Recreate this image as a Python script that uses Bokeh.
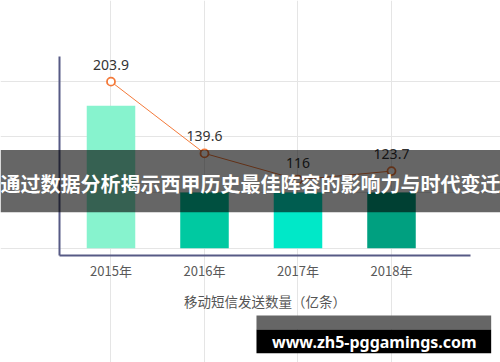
from bokeh.plotting import figure
from bokeh.models import Range1d, LinearAxis, FixedTicker, BoxAnnotation, Label, ColumnDataSource
from bokeh.core.properties import value
from bokeh.embed import file_html
from bokeh.resources import INLINE

# ---- data ----
years = ["2015年", "2016年", "2017年", "2018年"]
bar_values = [128, 50, 50, 50]
bar_colors = ["#87f3ce", "#00c9a1", "#00e8c8", "#00a080"]
line_values = [203.9, 139.6, 116, 123.7]
line_labels = ["203.9", "139.6", "116", "123.7"]
axis_title = "移动短信发送数量（亿条）"
banner_text = "通过数据分析揭示西甲历史最佳阵容的影响力与时代变迁"
site_text = "www.zh5-pggamings.com"

xs = list(range(len(years)))
ORANGE = "#f47a3a"
AXIS = "#575a85"

p = figure(width=500, height=362, output_backend="svg", toolbar_location=None,
           x_range=Range1d(-1.1818, 4.1658), y_range=Range1d(-102.6, 222.4),
           x_axis_location=None, y_axis_location=None,
           min_border=0, min_border_left=0, min_border_right=0,
           min_border_top=0, min_border_bottom=0)
p.extra_y_ranges = {"line": Range1d(-47.8, 276.6)}
p.outline_line_color = None
p.background_fill_color = "white"
p.border_fill_color = "white"

xaxis = LinearAxis(ticker=FixedTicker(ticks=xs),
                   major_label_overrides={i: years[i] for i in xs},
                   fixed_location=-6.55, bounds=(-0.551, 3.845),
                   axis_line_color=AXIS, axis_line_width=2,
                   major_tick_line_color=None, minor_tick_line_color=None,
                   major_tick_in=0, major_tick_out=0,
                   major_label_text_font="Noto Sans CJK SC",
                   major_label_text_font_size="13px",
                   major_label_text_color="#595959",
                   major_label_standoff=5,
                   axis_label=axis_title, axis_label_standoff=8,
                   axis_label_text_font="Noto Sans CJK SC",
                   axis_label_text_font_style="normal",
                   axis_label_text_font_size="13.5px",
                   axis_label_text_color="#555555")
p.add_layout(xaxis, "below")

yaxis = LinearAxis(ticker=FixedTicker(ticks=[]), fixed_location=-0.551,
                   bounds=(-6.55, 172.1), axis_line_color=AXIS, axis_line_width=2,
                   major_tick_line_color=None, minor_tick_line_color=None,
                   major_label_text_font_size="0px")
p.add_layout(yaxis, "left")

src = ColumnDataSource(dict(x=xs, top=bar_values, color=bar_colors))
p.vbar(x="x", top="top", bottom=0, width=0.519, fill_color="color",
       line_color=None, source=src)

lsrc = ColumnDataSource(dict(x=xs, y=line_values, label=line_labels))
p.line("x", "y", source=lsrc, y_range_name="line", line_color=ORANGE, line_width=1)
p.scatter("x", "y", source=lsrc, y_range_name="line", marker="circle", size=8,
          fill_color="white", line_color=ORANGE, line_width=1.8)
p.text("x", "y", text="label", source=lsrc, y_range_name="line",
       text_align="center", text_baseline="middle", y_offset=-17,
       text_font=value("Noto Sans"), text_font_size=value("14px"),
       text_color="#333333")

# overlay banner
p.add_layout(BoxAnnotation(top=88.15, bottom=32.3, fill_color="black", fill_alpha=0.6,
                           line_color=None, level="overlay"))
p.add_layout(Label(x=1.492, y=58.1, text=banner_text, text_align="center",
                   text_baseline="middle", text_color="white",
                   text_font="Noto Sans CJK SC", text_font_size="20px",
                   text_font_style="bold", level="overlay"))

# site box
p.add_layout(BoxAnnotation(left=1.556, right=4.066, top=-60.4, bottom=-73.0,
                           fill_color="#666666", fill_alpha=1, line_color=None,
                           level="overlay"))
p.add_layout(BoxAnnotation(left=1.556, right=4.066, top=-73.0, bottom=-94.25,
                           fill_color="black", fill_alpha=1, line_color=None,
                           level="overlay"))
p.add_layout(Label(x=2.816, y=-84.6, text=site_text, text_align="center",
                   text_baseline="alphabetic", text_color="white",
                   text_font="Noto Sans", text_font_size="16px",
                   text_font_style="bold", level="overlay"))

open("out.html", "w").write(file_html(p, INLINE))
